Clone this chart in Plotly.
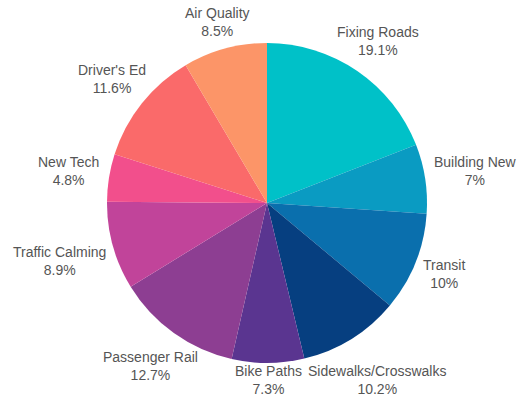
import math
import plotly.graph_objects as go

labels = ["Fixing Roads", "Building New", "Transit", "Sidewalks/Crosswalks", "Bike Paths",
          "Passenger Rail", "Traffic Calming", "New Tech", "Driver's Ed", "Air Quality"]
values = [19.1, 7, 10, 10.2, 7.3, 12.7, 8.9, 4.8, 11.6, 8.5]
colors = ["#00C1C8", "#0A9BC2", "#0A6FAD", "#063F80", "#5A3590",
          "#8D3E92", "#C1449A", "#F24F8C", "#FA6A6A", "#FC9568"]

W, H = 518, 401
cx, cy, r = 267, 203, 160   # pie centre and radius in px
font_size = 14

# rough Arial/Liberation Sans advance widths (per 1000 em)
_wide = {"W": 944, "M": 833, "m": 833, "w": 722, "%": 889, "C": 722, "D": 722, "R": 722,
         "N": 722, "B": 667, "A": 667, "P": 667, "S": 667, "T": 611, "F": 611, "E": 667, "Q": 778}
_narrow = {"i": 222, "l": 222, "j": 222, "'": 191, " ": 278, ".": 278, "/": 278,
           "f": 278, "t": 278, "r": 333, "k": 500, "s": 500, "c": 500, "y": 500, "v": 500}


def text_w(s):
    return sum(_wide.get(ch, _narrow.get(ch, 556)) for ch in s) * font_size / 1000


fig = go.Figure(go.Pie(
    labels=labels,
    values=values,
    sort=False,
    direction="clockwise",
    rotation=0,
    marker=dict(colors=colors, line=dict(width=0)),
    textinfo="none",
    hoverinfo="label+value",
    showlegend=False,
    domain=dict(x=[(cx - r) / W, (cx + r) / W], y=[1 - (cy + r) / H, 1 - (cy - r) / H]),
))

# labels sit just outside the pie, centred on each slice's mid-angle
total = sum(values)
cum = 0
annotations = []
for lab, v in zip(labels, values):
    theta = math.radians((cum + v / 2) / total * 360)
    cum += v
    txt = f"{v:g}%"
    hw = max(text_w(lab), text_w(txt)) / 2
    hh = 16
    s, c = math.sin(theta), math.cos(theta)
    d = r + 10 + math.hypot(hw * s, hh * c)
    px, py = cx + d * s, cy - d * c
    py = min(max(py, 21), H - 21)  # keep the two-line label inside the window
    annotations.append(dict(
        x=px / W, y=1 - py / H, xref="paper", yref="paper",
        text=f"{lab}<br>{txt}", showarrow=False,
        xanchor="center", yanchor="middle", align="center",
        font=dict(family="Liberation Sans, Arial, sans-serif", size=font_size, color="#555555"),
    ))

fig.update_layout(
    width=W, height=H,
    margin=dict(l=0, r=0, t=0, b=0),
    paper_bgcolor="white",
    plot_bgcolor="white",
    annotations=annotations,
)

# drop the browser's default body margin so the figure fills the window
fig.write_html("out.html", config={"displayModeBar": False},
               post_script="document.body.style.margin='0';")
